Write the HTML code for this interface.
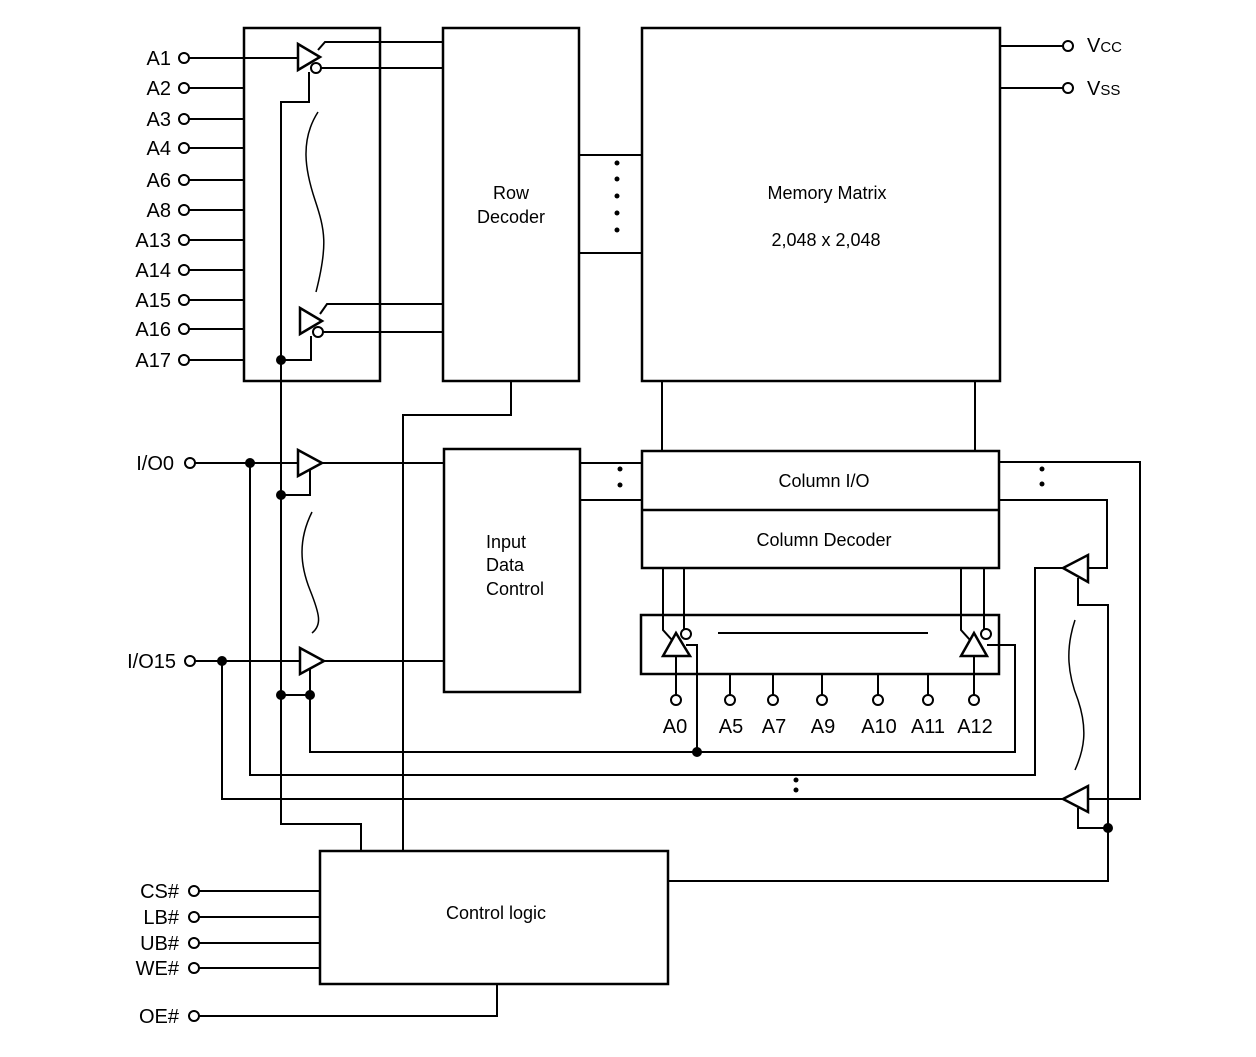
<!DOCTYPE html>
<html><head><meta charset="utf-8"><style>
html,body{margin:0;padding:0;background:#fff;}
svg{display:block;font-family:"Liberation Sans",Arial,sans-serif;}
</style></head><body>
<svg width="1256" height="1057" viewBox="0 0 1256 1057" xmlns="http://www.w3.org/2000/svg">
<g fill="none" stroke="#000" stroke-width="2">
<rect x="244" y="28" width="136" height="353" stroke-width="2.5"/>
<rect x="443" y="28" width="136" height="353" stroke-width="2.5"/>
<rect x="642" y="28" width="358" height="353" stroke-width="2.5"/>
<rect x="444" y="449" width="136" height="243" stroke-width="2.5"/>
<rect x="642" y="451" width="357" height="117" stroke-width="2.5"/>
<line x1="642" y1="510" x2="999" y2="510" stroke-width="2.5"/>
<rect x="641" y="615" width="358" height="59" stroke-width="2.5"/>
<rect x="320" y="851" width="348" height="133" stroke-width="2.5"/>
<line x1="718" y1="633" x2="928" y2="633"/>
<line x1="1000" y1="46" x2="1063" y2="46"/><circle cx="1068" cy="46" r="5"/>
<line x1="1000" y1="88" x2="1063" y2="88"/><circle cx="1068" cy="88" r="5"/>
<g>
<line x1="189" y1="58" x2="298" y2="58"/><circle cx="184" cy="58" r="5"/>
<line x1="189" y1="88" x2="244" y2="88"/><circle cx="184" cy="88" r="5"/>
<line x1="189" y1="119" x2="244" y2="119"/><circle cx="184" cy="119" r="5"/>
<line x1="189" y1="148" x2="244" y2="148"/><circle cx="184" cy="148" r="5"/>
<line x1="189" y1="180" x2="244" y2="180"/><circle cx="184" cy="180" r="5"/>
<line x1="189" y1="210" x2="244" y2="210"/><circle cx="184" cy="210" r="5"/>
<line x1="189" y1="240" x2="244" y2="240"/><circle cx="184" cy="240" r="5"/>
<line x1="189" y1="270" x2="244" y2="270"/><circle cx="184" cy="270" r="5"/>
<line x1="189" y1="300" x2="244" y2="300"/><circle cx="184" cy="300" r="5"/>
<line x1="189" y1="329" x2="244" y2="329"/><circle cx="184" cy="329" r="5"/>
<line x1="189" y1="360" x2="244" y2="360"/><circle cx="184" cy="360" r="5"/>
</g>
<polygon points="298,44 298,70 320,57" stroke-width="2.5"/>
<polyline points="318,50 325,42 443,42"/>
<circle cx="316" cy="68" r="5"/><line x1="321" y1="68" x2="443" y2="68"/>
<polyline points="309,72 309,102 281,102 281,824 361,824 361,851"/>
<polygon points="300,308 300,334 322,321" stroke-width="2.5"/>
<polyline points="320,314 327,304 443,304"/>
<circle cx="318" cy="332" r="5"/><line x1="323" y1="332" x2="443" y2="332"/>
<polyline points="311,336 311,360 281,360"/>
<path d="M318,112 C300,140 305,170 315,200 C325,230 328,245 316,292" stroke-width="1.5"/>
<line x1="579" y1="155" x2="642" y2="155"/>
<line x1="579" y1="253" x2="642" y2="253"/>
<polyline points="511,381 511,415 403,415 403,851"/>
<line x1="662" y1="381" x2="662" y2="451"/>
<line x1="975" y1="381" x2="975" y2="451"/>
<line x1="195" y1="463" x2="298" y2="463"/><circle cx="190" cy="463" r="5"/>
<polygon points="298,450 298,476 322,463" stroke-width="2.5"/>
<line x1="322" y1="463" x2="444" y2="463"/>
<polyline points="310,470 310,495 281,495"/>
<line x1="195" y1="661" x2="300" y2="661"/><circle cx="190" cy="661" r="5"/>
<polygon points="300,648 300,674 324,661" stroke-width="2.5"/>
<line x1="324" y1="661" x2="444" y2="661"/>
<polyline points="310,668 310,752 1015,752 1015,645 987,645"/>
<line x1="281" y1="695" x2="310" y2="695"/>
<path d="M312,512 C298,540 300,565 310,590 C320,615 322,625 312,633" stroke-width="1.5"/>
<polyline points="250,463 250,775 1035,775 1035,568 1063,568"/>
<polyline points="222,661 222,799 1063,799"/>
<line x1="580" y1="463" x2="642" y2="463"/>
<line x1="580" y1="500" x2="642" y2="500"/>
<polygon points="1088,555 1088,582 1063,568" stroke-width="2.5"/>
<polyline points="1088,568 1107,568 1107,500 999,500"/>
<polyline points="1078,578 1078,605 1108,605 1108,881 668,881"/>
<polygon points="1088,786 1088,812 1063,799" stroke-width="2.5"/>
<polyline points="1088,799 1140,799 1140,462 999,462"/>
<polyline points="1078,808 1078,828 1108,828"/>
<path d="M1075,620 C1065,650 1068,675 1078,700 C1088,730 1084,750 1075,770" stroke-width="1.5"/>
<polygon points="676,633 663,656 690,656" stroke-width="2.5"/>
<polyline points="663,568 663,630 672,640"/>
<line x1="684" y1="568" x2="684" y2="629"/><circle cx="686" cy="634" r="5"/>
<polyline points="686,645 697,645 697,752"/>
<line x1="676" y1="656" x2="676" y2="695"/><circle cx="676" cy="700" r="5"/>
<polygon points="974,633 961,656 987,656" stroke-width="2.5"/>
<polyline points="961,568 961,630 970,640"/>
<line x1="984" y1="568" x2="984" y2="629"/><circle cx="986" cy="634" r="5"/>
<line x1="974" y1="656" x2="974" y2="695"/><circle cx="974" cy="700" r="5"/>
<line x1="730" y1="674" x2="730" y2="695"/><circle cx="730" cy="700" r="5"/>
<line x1="773" y1="674" x2="773" y2="695"/><circle cx="773" cy="700" r="5"/>
<line x1="822" y1="674" x2="822" y2="695"/><circle cx="822" cy="700" r="5"/>
<line x1="878" y1="674" x2="878" y2="695"/><circle cx="878" cy="700" r="5"/>
<line x1="928" y1="674" x2="928" y2="695"/><circle cx="928" cy="700" r="5"/>
<line x1="199" y1="891" x2="320" y2="891"/><circle cx="194" cy="891" r="5"/>
<line x1="199" y1="917" x2="320" y2="917"/><circle cx="194" cy="917" r="5"/>
<line x1="199" y1="943" x2="320" y2="943"/><circle cx="194" cy="943" r="5"/>
<line x1="199" y1="968" x2="320" y2="968"/><circle cx="194" cy="968" r="5"/>
<polyline points="199,1016 497,1016 497,984"/><circle cx="194" cy="1016" r="5"/>
</g>
<g fill="#000">
<circle cx="281" cy="360" r="5"/>
<circle cx="250" cy="463" r="5"/>
<circle cx="281" cy="495" r="5"/>
<circle cx="222" cy="661" r="5"/>
<circle cx="281" cy="695" r="5"/><circle cx="310" cy="695" r="5"/>
<circle cx="697" cy="752" r="5"/>
<circle cx="1108" cy="828" r="5"/>
<circle cx="617" cy="163" r="2.5"/><circle cx="617" cy="179" r="2.5"/><circle cx="617" cy="196" r="2.5"/><circle cx="617" cy="213" r="2.5"/><circle cx="617" cy="230" r="2.5"/>
<circle cx="620" cy="469" r="2.5"/><circle cx="620" cy="485" r="2.5"/>
<circle cx="1042" cy="469" r="2.5"/><circle cx="1042" cy="484" r="2.5"/>
<circle cx="796" cy="780" r="2.5"/><circle cx="796" cy="790" r="2.5"/>
</g>
<g font-size="20" text-anchor="end" fill="#000">
<text x="171" y="65">A1</text><text x="171" y="95">A2</text><text x="171" y="126">A3</text><text x="171" y="155">A4</text>
<text x="171" y="187">A6</text><text x="171" y="217">A8</text><text x="171" y="247">A13</text><text x="171" y="277">A14</text>
<text x="171" y="307">A15</text><text x="171" y="336">A16</text><text x="171" y="367">A17</text>
<text x="174" y="470">I/O0</text><text x="176" y="668">I/O15</text>
<text x="179" y="898">CS#</text><text x="179" y="924">LB#</text><text x="179" y="950">UB#</text><text x="179" y="975">WE#</text>
<text x="179" y="1023">OE#</text>
</g>
<g font-size="20" text-anchor="middle" fill="#000">
<text x="675" y="733">A0</text><text x="731" y="733">A5</text><text x="774" y="733">A7</text><text x="823" y="733">A9</text>
<text x="879" y="733">A10</text><text x="928" y="733">A11</text><text x="975" y="733">A12</text>
</g>
<g font-size="18" fill="#000">
<text x="1087" y="52" font-size="20">V<tspan font-size="15">CC</tspan></text>
<text x="1087" y="95" font-size="20">V<tspan font-size="15">SS</tspan></text>
<text x="511" y="199" text-anchor="middle">Row</text>
<text x="511" y="223" text-anchor="middle">Decoder</text>
<text x="827" y="199" text-anchor="middle">Memory Matrix</text>
<text x="826" y="246" text-anchor="middle">2,048 x 2,048</text>
<text x="824" y="487" text-anchor="middle">Column I/O</text>
<text x="824" y="546" text-anchor="middle">Column Decoder</text>
<text x="486" y="548">Input</text>
<text x="486" y="571">Data</text>
<text x="486" y="595">Control</text>
<text x="496" y="919" text-anchor="middle">Control logic</text>
</g>
</svg>
</body></html>
